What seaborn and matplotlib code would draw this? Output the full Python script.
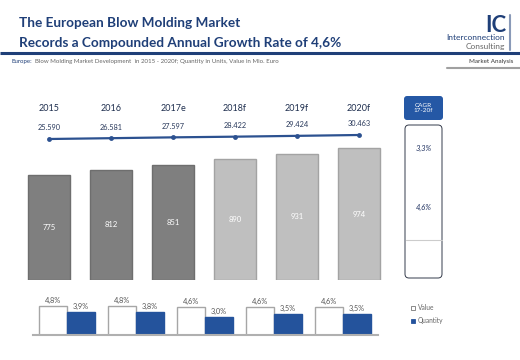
import matplotlib
matplotlib.use("Agg")
import matplotlib.pyplot as plt
import matplotlib.transforms as mtransforms
import seaborn as sns
import pandas as pd
from matplotlib.patches import FancyBboxPatch, Rectangle

# ---------------- data ----------------
years = ["2015", "2016", "2017e", "2018f", "2019f", "2020f"]
value_mio = [775, 812, 851, 890, 931, 974]
quantity_units = [25590, 26581, 27597, 28422, 29424, 30463]
quantity_labels = ["25.590", "26.581", "27.597", "28.422", "29.424", "30.463"]
growth_periods = ["15-16", "16-17", "17-18", "18-19", "19-20"]
growth_value = [4.8, 4.8, 4.6, 4.6, 4.6]
growth_quantity = [3.9, 3.8, 3.0, 3.5, 3.5]
cagr_quantity = "3,3%"
cagr_value = "4,6%"

W, H = 520, 360
sns.set_theme(style="white")
plt.rcParams["font.family"] = ["Lato", "DejaVu Sans"]

fig = plt.figure(figsize=(W / 100, H / 100), dpi=100)
fig.patch.set_facecolor("white")

def fx(px):
    return px / W

def fy(py):
    return 1 - py / H

TITLE_BLUE = "#1f3f78"
BAR_BLUE = "#24539c"
LINE_BLUE = "#2c5190"

# ---------------- main bar chart ----------------
ax = fig.add_axes([fx(18), fy(280), fx(390) - fx(18), fy(100) - fy(280)])
df_main = pd.DataFrame({"year": years, "value": value_mio})
bar_cols = ["#7f7f7f"] * 3 + ["#bfbfbf"] * 3
sns.barplot(data=df_main, x="year", y="value", hue="year", palette=bar_cols,
            legend=False, width=0.68, ax=ax, saturation=1)
edge_cols = ["#6e6e6e"] * 3 + ["#a3a3a3"] * 3
for p, ec in zip(ax.patches, edge_cols):
    p.set_edgecolor(ec)
    p.set_linewidth(1.0)
ax.set_xlim(-0.5, 5.5)
ax.set_ylim(0, 180 / (105 / 775))
ax.axis("off")
yr_tr = mtransforms.blended_transform_factory(ax.transData, fig.transFigure)
for i, v in enumerate(value_mio):
    ax.text(i, v / 2, str(v), ha="center", va="center", color="white", fontsize=5.5)
    ax.text(i, fy(108), years[i], ha="center", va="center", color="#1f2f4f",
            fontsize=6.5, transform=yr_tr)

# line on twin axis
ax2 = ax.twinx()
sns.lineplot(x=list(range(6)), y=quantity_units, ax=ax2, color=LINE_BLUE, lw=1.6,
             marker="o", markersize=3.5, markeredgewidth=0)
slope = 4 / (quantity_units[-1] - quantity_units[0])  # px per unit
bottom_val = quantity_units[0] - (280 - 139) / slope
ax2.set_ylim(bottom_val, bottom_val + 180 / slope)
ax2.set_xlim(-0.5, 5.5)
ax2.axis("off")
for i, (q, lab) in enumerate(zip(quantity_units, quantity_labels)):
    ax2.annotate(lab, (i, q), xytext=(0, 5.5), textcoords="offset points",
                 ha="center", va="bottom", fontsize=5.3, color="#2a3a5c")

# ---------------- growth bar chart ----------------
ax3 = fig.add_axes([fx(32.5), fy(335), fx(377.5) - fx(32.5), fy(295) - fy(335)])
df_g = pd.DataFrame({
    "period": growth_periods * 2,
    "growth": growth_value + growth_quantity,
    "series": ["Value"] * 5 + ["Quantity"] * 5,
})
sns.barplot(data=df_g, x="period", y="growth", hue="series",
            palette={"Value": "white", "Quantity": BAR_BLUE}, width=0.81,
            ax=ax3, saturation=1, legend=False)
for p in ax3.patches[:5]:
    p.set_edgecolor("#a6a6a6")
    p.set_linewidth(1.0)
for p in ax3.patches[5:10]:
    p.set_edgecolor(BAR_BLUE)
ax3.set_xlim(-0.5, 4.5)
ax3.set_ylim(0, 40 / 6)
for s in ["top", "right", "left"]:
    ax3.spines[s].set_visible(False)
ax3.spines["bottom"].set_color("#b0b0b0")
ax3.spines["bottom"].set_linewidth(1.5)
ax3.set_xticks([])
ax3.set_yticks([])
ax3.set_xlabel("")
ax3.set_ylabel("")
for p in ax3.patches[:10]:
    h = p.get_height()
    ax3.annotate(f"{h:.1f}%".replace(".", ","), (p.get_x() + p.get_width() / 2, h),
                 xytext=(0, 1.5), textcoords="offset points", ha="center", va="bottom",
                 fontsize=5.3, color="#555555")

# ---------------- overlay (pixel coordinates) ----------------
ov = fig.add_axes([0, 0, 1, 1])
ov.set_xlim(0, W)
ov.set_ylim(H, 0)
ov.axis("off")

ov.text(19, 23, "The European Blow Molding Market", fontsize=9.8, color=TITLE_BLUE,
        va="center", ha="left", fontweight="bold")
ov.text(19, 43, "Records a Compounded Annual Growth Rate of 4,6%", fontsize=9.8,
        color=TITLE_BLUE, va="center", ha="left", fontweight="bold")
ov.plot([0, 520], [53, 53], color=TITLE_BLUE, lw=2.2, solid_capstyle="butt")
ov.text(11, 62, "Europe:", fontsize=4.4, color=TITLE_BLUE, va="center", ha="left")
ov.text(35, 62, "Blow Molding Market Development  in 2015 - 2020f; Quantity in Units, Value in Mio. Euro",
        fontsize=4.4, color="#666666", va="center", ha="left")
ov.text(513, 62, "Market Analysis", fontsize=4.5, color="#333333", va="center", ha="right")
ov.plot([447, 520], [68, 68], color="#a0a0a0", lw=1.5)

# logo
ov.text(506, 32.5, "IC", fontsize=16, color=TITLE_BLUE, fontweight="bold",
        va="baseline", ha="right")
ov.text(505, 38, "Interconnection", fontsize=6, color=TITLE_BLUE, va="center", ha="right")
ov.text(505, 47, "Consulting", fontsize=6, color="#666666", va="center", ha="right")
ov.plot([509.5, 509.5], [15, 50], color="#8a9ab8", lw=1.5)

# CAGR box
ov.add_patch(FancyBboxPatch((404, 96), 39, 24, boxstyle="round,pad=0,rounding_size=3",
                            facecolor="#2558a5", edgecolor="none"))
ov.text(423.5, 108, "CAGR\n17-20f", fontsize=4.6, color="white", ha="center", va="center",
        linespacing=0.95)
ov.add_patch(FancyBboxPatch((405, 125), 37, 153, boxstyle="round,pad=0,rounding_size=4",
                            facecolor="white", edgecolor="#333a4a", lw=0.7))
ov.plot([405.5, 441.5], [240, 240], color="#cccccc", lw=0.8)
ov.text(423.5, 148, cagr_quantity, fontsize=5.5, color="#1f3160", style="italic",
        ha="center", va="center")
ov.text(423.5, 207, cagr_value, fontsize=5.5, color="#1f3160", style="italic",
        ha="center", va="center")

# legend
ov.add_patch(Rectangle((411, 306), 4, 4, facecolor="white", edgecolor="#777777", lw=0.6))
ov.text(418, 308, "Value", fontsize=4.8, color="#666666", va="center", ha="left")
ov.add_patch(Rectangle((411, 319), 4, 4, facecolor=BAR_BLUE, edgecolor=BAR_BLUE, lw=0.6))
ov.text(418, 321, "Quantity", fontsize=4.8, color="#666666", va="center", ha="left")

fig.savefig("out.png", dpi=100, facecolor="white")
